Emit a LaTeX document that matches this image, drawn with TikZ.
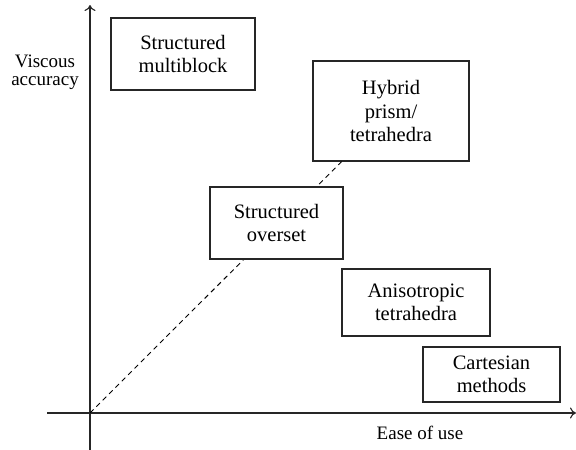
\documentclass[tikz,border=0pt]{standalone}
\usepackage{fontspec}
\setmainfont{Liberation Serif}
\usetikzlibrary{arrows.meta,calc}
\begin{document}
\begin{tikzpicture}[x=1pt,y=-1pt,
  axis/.style={line width=1.1pt,draw=black!85,-{To[length=6pt,width=11pt]}},
  meshbox/.style={draw=black!85,line width=1.2pt,fill=white,align=center,inner sep=0pt,
    font=\fontsize{20.5}{23.5}\selectfont},
  lbl/.style={align=center,inner sep=0pt,font=\fontsize{19}{18}\selectfont}]
\useasboundingbox (0,0) rectangle (576,450);
% axes
\coordinate (O) at (90,413);
\coordinate (ybot) at (90,450);
\coordinate (ytop) at (90,5);
\coordinate (xleft) at (47,413);
\coordinate (xright) at (576,413);
\draw[axis] (ybot) -- (ytop);
\draw[axis] (xleft) -- (xright);
\node[lbl] (ylab) at (45,72) {Viscous\\accuracy};
\node[lbl] (xlab) at (420,433) {Ease of use};
% mesh categories
\node[meshbox,minimum width=144pt,minimum height=72pt] (multi) at (183,54) {Structured\\multiblock};
\node[meshbox,minimum width=156pt,minimum height=100pt] (hyb) at (391,111) {Hybrid\\prism/\\tetrahedra};
% trend line, drawn before the boxes that cover it
\draw[dash pattern=on 5pt off 4pt,line width=0.9pt] (O) -- ($(hyb.south west)!0.186!(hyb.south east)$);
\node[meshbox,minimum width=133pt,minimum height=72pt] (over) at (276.5,223) {Structured\\overset};
\node[meshbox,minimum width=148pt,minimum height=67pt] (aniso) at (416,302.5) {Anisotropic\\tetrahedra};
\node[meshbox,minimum width=137pt,minimum height=55pt] (cart) at (491.5,374.5) {Cartesian\\methods};
\end{tikzpicture}
\end{document}
